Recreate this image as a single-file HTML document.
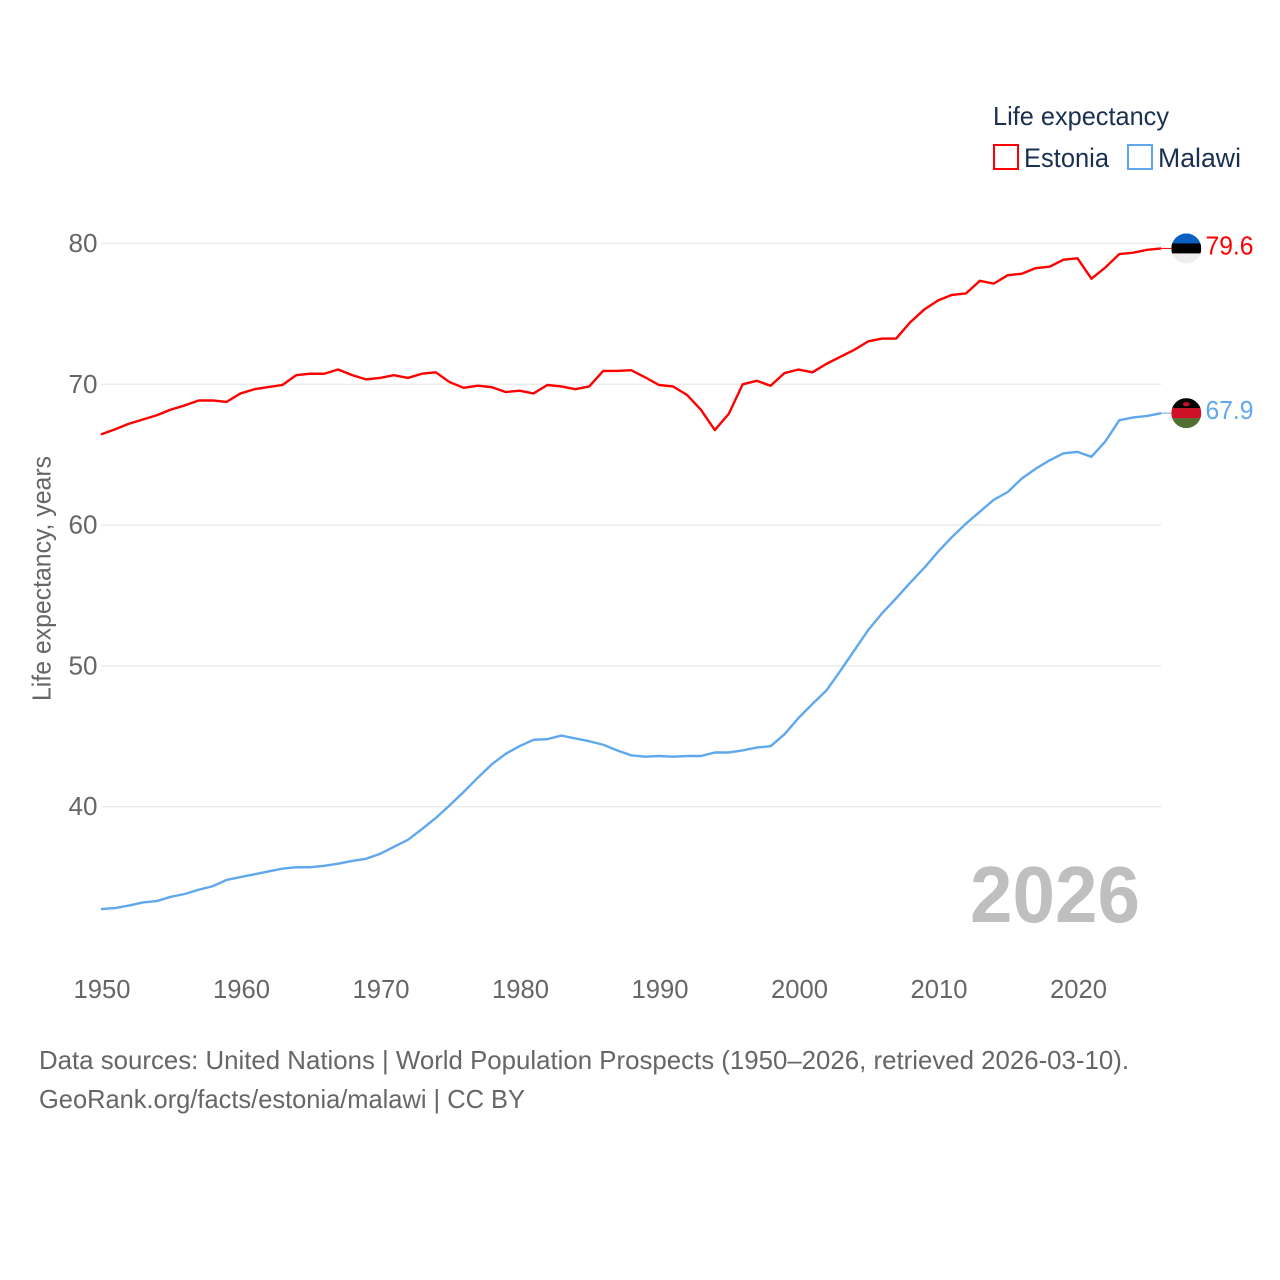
<!DOCTYPE html>
<html lang="en">
<head>
<meta charset="utf-8">
<title>Life expectancy: Estonia and Malawi</title>
<style>
html,body{margin:0;padding:0;background:#fff;width:1280px;height:1280px;overflow:hidden}
svg{display:block}
text{font-family:"Liberation Sans",sans-serif}
</style>
</head>
<body>
<svg id="chart" xmlns="http://www.w3.org/2000/svg" width="1280" height="1280" viewBox="0 0 1280 1280">
  <defs>
    <clipPath id="clip-estonia"><circle id="clip-estonia-circle" r="15"></circle></clipPath>
    <clipPath id="clip-malawi"><circle id="clip-malawi-circle" r="15"></circle></clipPath>
  </defs>
  <rect width="1280" height="1280" fill="#fff"></rect>
  <g id="grid"></g>
  <g id="y-ticks"></g>
  <g id="x-ticks"></g>
  <text transform="translate(50.5 701) rotate(-90)" font-size="26" fill="#666" textLength="245" lengthAdjust="spacingAndGlyphs">Life expectancy, years</text>
  <g id="series"></g>
  <g id="flags"></g>
  <g>
    <text x="993" y="125" font-size="26" fill="#1a3050" textLength="176" lengthAdjust="spacingAndGlyphs">Life expectancy</text>
    <rect x="994" y="145" width="24" height="24" fill="none" stroke="#ff0000" stroke-width="2"></rect>
    <text x="1024" y="167" font-size="26.5" fill="#1a3050" textLength="85" lengthAdjust="spacingAndGlyphs">Estonia</text>
    <rect x="1128" y="145" width="24" height="24" fill="none" stroke="#5fa8ee" stroke-width="2"></rect>
    <text x="1158" y="167" font-size="26.5" fill="#1a3050" textLength="83" lengthAdjust="spacingAndGlyphs">Malawi</text>
  </g>
  <text x="970" y="922" font-size="80" font-weight="700" fill="#bfbfbf" textLength="170" lengthAdjust="spacingAndGlyphs">2026</text>
  <text x="39" y="1069" font-size="26" fill="#666" textLength="1090" lengthAdjust="spacingAndGlyphs">Data sources: United Nations | World Population Prospects (1950–2026, retrieved 2026-03-10).</text>
  <text x="39" y="1108" font-size="26" fill="#666" textLength="486" lengthAdjust="spacingAndGlyphs">GeoRank.org/facts/estonia/malawi | CC BY</text>
</svg>
<script>
const startYear = 1950;
const estoniaValues = [66.44,66.8,67.2,67.5,67.8,68.2,68.5,68.85,68.85,68.75,69.35,69.65,69.8,69.95,70.65,70.75,70.75,71.05,70.65,70.35,70.45,70.65,70.45,70.75,70.85,70.15,69.75,69.9,69.8,69.45,69.55,69.35,69.95,69.85,69.65,69.85,70.95,70.95,71.0,70.5,69.95,69.85,69.25,68.2,66.75,67.9,70.0,70.25,69.9,70.8,71.05,70.85,71.45,71.95,72.45,73.05,73.25,73.25,74.4,75.3,75.95,76.35,76.45,77.35,77.15,77.75,77.85,78.25,78.35,78.85,78.95,77.5,78.3,79.25,79.35,79.55,79.65];
const malawiValues = [32.73,32.8,32.98,33.2,33.3,33.6,33.8,34.1,34.35,34.8,35.0,35.2,35.4,35.6,35.7,35.7,35.8,35.95,36.15,36.3,36.65,37.15,37.65,38.4,39.2,40.1,41.05,42.05,43.0,43.75,44.3,44.75,44.8,45.05,44.85,44.65,44.4,44.0,43.65,43.55,43.6,43.55,43.6,43.6,43.85,43.85,44.0,44.2,44.3,45.15,46.3,47.3,48.25,49.65,51.1,52.55,53.75,54.8,55.9,56.95,58.1,59.15,60.1,60.95,61.8,62.35,63.3,64.0,64.6,65.1,65.2,64.85,65.95,67.45,67.65,67.75,67.95];
const yTickValues = [40,50,60,70,80];
const xTickValues = [1950,1960,1970,1980,1990,2000,2010,2020];
const estoniaEndLabel = "79.6";
const malawiEndLabel = "67.9";

const NS = "http://www.w3.org/2000/svg";
function xScale(year){ return 101 + (year - 1950) * 13.95; }
function yScale(v){ return 243.5 + (80 - v) * 14.08; }
function mk(parent, tag, attrs){
  const el = document.createElementNS(NS, tag);
  for (const k in attrs) el.setAttribute(k, attrs[k]);
  parent.appendChild(el);
  return el;
}

const lastYear = startYear + estoniaValues.length - 1;
const gridG = document.getElementById("grid");
const yG = document.getElementById("y-ticks");
const xG = document.getElementById("x-ticks");
const seriesG = document.getElementById("series");
const flagsG = document.getElementById("flags");

yTickValues.forEach(function(v){
  const line = mk(gridG, "line", {x1: 101, x2: xScale(lastYear), y1: yScale(v), y2: yScale(v), stroke: "#ebebeb", "stroke-width": 1.4});
  
  
  const t = mk(yG, "text", {x: 68.5, y: yScale(v) + 8.5, "font-size": 26, fill: "#666", textLength: 29, lengthAdjust: "spacingAndGlyphs"});
  t.textContent = v;
  
  
});

xTickValues.forEach(function(y){
  const t = mk(xG, "text", {x: xScale(y) - 27.5, y: 998, "font-size": 26, fill: "#666", textLength: 57, lengthAdjust: "spacingAndGlyphs"});
  t.textContent = y;
  
  
});

function pathFor(values){
  return values.map(function(v, i){
    return (i ? "L" : "M") + xScale(startYear + i).toFixed(2) + " " + yScale(v).toFixed(2);
  }).join("");
}

const lineEstonia = mk(seriesG, "path", {d: pathFor(estoniaValues), fill: "none", stroke: "#ff0000", "stroke-width": 2.4, "stroke-linejoin": "round"});


const lineMalawi = mk(seriesG, "path", {d: pathFor(malawiValues), fill: "none", stroke: "#5fa8ee", "stroke-width": 2.4, "stroke-linejoin": "round"});



function drawEnd(values, color, clipId, circleId, bands, labelText){
  const last = values[values.length - 1];
  const cy = yScale(last);
  const cx = 1186.3;
  const conn = mk(seriesG, "line", {x1: xScale(lastYear), x2: cx - 15, y1: cy, y2: cy, stroke: color, "stroke-width": 1});
  
  
  const c = document.getElementById(circleId);
  c.setAttribute("cx", cx);
  c.setAttribute("cy", cy);
  const g = mk(flagsG, "g", {"clip-path": "url(#" + clipId + ")"});
  
  
  bands.forEach(function(col, i){
    mk(g, "rect", {x: cx - 15, y: cy - 15 + i * 10, width: 30, height: 10.2, fill: col});
  });
  const lab = mk(flagsG, "text", {x: 1205.5, y: cy + 6, "font-size": 26, fill: color, textLength: 48, lengthAdjust: "spacingAndGlyphs"});
  lab.textContent = labelText;
  
  
  return {g: g, cx: cx, cy: cy};
}

drawEnd(estoniaValues, "#ff0000", "clip-estonia", "clip-estonia-circle", ["#0a5fc0", "#000000", "#eeeeee"], estoniaEndLabel);
const mw = drawEnd(malawiValues, "#5fa8ee", "clip-malawi", "clip-malawi-circle", ["#000000", "#ce1126", "#4f7030"], malawiEndLabel);
const sun = mk(mw.g, "ellipse", {cx: mw.cx, cy: mw.cy - 9, rx: 3.5, ry: 2, fill: "#ce1126"});


</script>
</body>
</html>
